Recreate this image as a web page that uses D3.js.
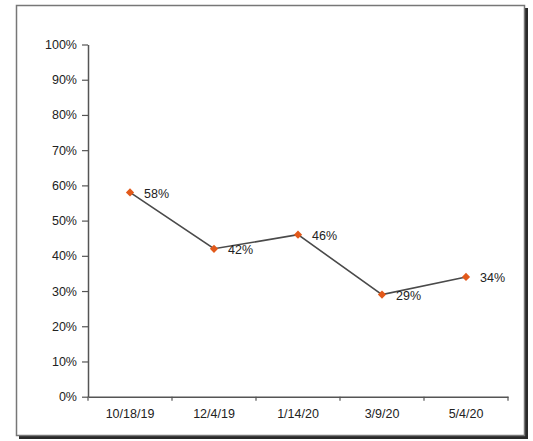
<!DOCTYPE html>
<html>
<head>
<meta charset="utf-8">
<script src="https://cdn.jsdelivr.net/npm/d3@7"></script>
<style>
  html, body { margin: 0; padding: 0; background: #fff; }
  svg { display: block; }
  text { font-family: "Liberation Sans", Arial, sans-serif; }
</style>
</head>
<body>
<svg id="chart" width="533" height="441"></svg>
<script>
// Survey dates and the share recorded on each
const dates = ["10/18/19", "12/4/19", "1/14/20", "3/9/20", "5/4/20"];
const shares = [0.58, 0.42, 0.46, 0.29, 0.34];
const yTicks = [0, 0.1, 0.2, 0.3, 0.4, 0.5, 0.6, 0.7, 0.8, 0.9, 1.0];

const svg = d3.select("#chart");
const W = 533, H = 441;
const plot = { left: 88, right: 508, top: 44.5, bottom: 396.7 };

// Outer frame with a dark drop shadow on the right and bottom
svg.append("rect")
  .attr("x", 19).attr("y", 8)
  .attr("width", 509).attr("height", 431)
  .attr("fill", "#2a2a2a");
svg.append("rect")
  .attr("x", 16.5).attr("y", 5.5)
  .attr("width", 508).attr("height", 430)
  .attr("fill", "#fff")
  .attr("stroke", "#777").attr("stroke-width", 1.5);

const x = d3.scaleBand().domain(dates).range([plot.left, plot.right]).padding(0);
const y = d3.scaleLinear().domain([0, 1]).range([plot.bottom, plot.top]);

// Y axis
const yAxis = svg.append("g")
  .attr("transform", `translate(${plot.left},0)`)
  .call(d3.axisLeft(y).tickValues(yTicks).tickFormat(d3.format(".0%")).tickSize(6).tickPadding(5).tickSizeOuter(0));
yAxis.select(".domain").attr("stroke", "#555").attr("stroke-width", 1.5);
yAxis.selectAll(".tick line").attr("stroke", "#555").attr("stroke-width", 1.2);
yAxis.selectAll(".tick text")
  .attr("fill", "#222")
  .style("font-size", "12.5px")
  .style("font-family", "'Liberation Sans', Arial, sans-serif");

// X axis: labels centred in each category, ticks on category boundaries
const xAxis = svg.append("g")
  .attr("transform", `translate(0,${plot.bottom})`)
  .call(d3.axisBottom(x).tickSize(0).tickPadding(12).tickSizeOuter(0));
xAxis.select(".domain").attr("stroke", "#555").attr("stroke-width", 1.5);
xAxis.selectAll(".tick text")
  .attr("fill", "#222")
  .style("font-size", "12.5px")
  .style("font-family", "'Liberation Sans', Arial, sans-serif");

const boundaries = dates.map(d => x(d)).concat([x.range()[1]]);
svg.append("g")
  .selectAll("line")
  .data(boundaries)
  .join("line")
  .attr("x1", d => d).attr("x2", d => d)
  .attr("y1", plot.bottom).attr("y2", plot.bottom + 4)
  .attr("stroke", "#555").attr("stroke-width", 1.2);

const cx = d => x(d) + x.bandwidth() / 2;
const data = dates.map((d, i) => ({ date: d, value: shares[i] }));

// Trend line
svg.append("path")
  .datum(data)
  .attr("fill", "none")
  .attr("stroke", "#4a4a4a")
  .attr("stroke-width", 1.6)
  .attr("d", d3.line().x(d => cx(d.date)).y(d => y(d.value)));

// Diamond markers
const diamond = d3.symbol().type(d3.symbolSquare).size(34);
svg.append("g")
  .selectAll("path")
  .data(data)
  .join("path")
  .attr("d", diamond)
  .attr("transform", d => `translate(${cx(d.date)},${y(d.value)}) rotate(45)`)
  .attr("fill", "#e2591a");

// Value labels to the right of each marker
svg.append("g")
  .selectAll("text")
  .data(data)
  .join("text")
  .attr("x", d => cx(d.date) + 14)
  .attr("y", d => y(d.value) + 1)
  .attr("dy", "0.35em")
  .attr("fill", "#222")
  .style("font-size", "12.5px")
  .text(d => d3.format(".0%")(d.value));
</script>
</body>
</html>
